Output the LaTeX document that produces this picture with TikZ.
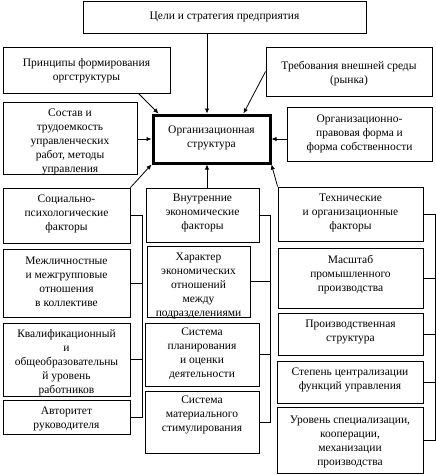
\documentclass[tikz,border=0pt]{standalone}
\usepackage{fontspec}
\setmainfont{Liberation Serif}
\usetikzlibrary{arrows.meta,fit,calc}
\tikzset{
  box/.style={draw, line width=0.9pt, inner sep=0pt},
  mainbox/.style={draw, line width=3pt, inner sep=0pt},
  txt/.style={align=center, inner sep=0pt, font=\fontsize{11.5}{14}\selectfont},
  arr/.style={line width=0.8pt, -{Latex[length=5pt,width=4.5pt]}},
  link/.style={line width=0.8pt}
}
\newcommand{\bx}[7][box]{%
  \node[#1, fit={(#3,#4) (#5,#6)}] (#2) {};
  \node[txt] (#2-t) at ({(#3+#5)/2},#7) {\csname bxt@#2\endcsname};}
\begin{document}
\begin{tikzpicture}[x=1pt,y=-1pt]
\useasboundingbox (0,0) rectangle (436,475);
\fill[white] (0,0) rectangle (436,475);
% boxes
\node[box, fit={(83,1) (366,33)}] (top) {};
\node[txt] (top-t) at (224.5,17) {Цели и стратегия предприятия};
\node[box, fit={(3,47) (170,93)}] (princ) {};
\node[txt] (princ-t) at (86.5,70.5) {Принципы формирования\\оргструктуры};
\node[box, fit={(266,47) (432,96)}] (req) {};
\node[txt] (req-t) at (349,73.5) {Требования внешней среды\\(рынка)};
\node[box, fit={(3,102) (137,174)}] (sostav) {};
\node[txt] (sostav-t) at (70,141.5) {Состав и\\трудоемкость\\управленческих\\работ, методы\\управления};
\node[mainbox, fit={(153,115) (270,163)}] (central) {};
\node[txt] (central-t) at (211.5,138) {Организационная\\структура};
\node[box, fit={(287,107) (432,161)}] (orglegal) {};
\node[txt] (orglegal-t) at (359.5,134) {Организационно-\\правовая форма и\\форма собственности};
% left column
\node[box, fit={(3,188) (130,243)}] (social) {};
\node[txt] (social-t) at (66.5,214) {Социально-\\психологические\\факторы};
\node[box, fit={(3,249) (130,317)}] (mezh) {};
\node[txt] (mezh-t) at (66.5,282) {Межличностные\\и межгрупповые\\отношения\\в коллективе};
\node[box, fit={(3,323) (130,396)}] (kval) {};
\node[txt] (kval-t) at (66.5,362.5) {Квалификационный\\и\\общеобразовательны\\й уровень\\работников};
\node[box, fit={(3,400) (130,434)}] (avt) {};
\node[txt] (avt-t) at (66.5,419) {Авторитет\\руководителя};
% middle column
\node[box, fit={(146,188) (259,242)}] (vnutr) {};
\node[txt] (vnutr-t) at (202.5,213) {Внутренние\\экономические\\факторы};
\node[box, fit={(147,246) (250,317)}] (harakt) {};
\node[txt] (harakt-t) at (198.5,286) {Характер\\экономических\\отношений\\между\\подразделениями};
\node[box, fit={(145,323) (259,386)}] (splan) {};
\node[txt] (splan-t) at (202,353.5) {Система\\планирования\\и оценки\\деятельности};
\node[box, fit={(145,391) (259,453)}] (smat) {};
\node[txt] (smat-t) at (202,415) {Система\\материального\\стимулирования};
% right column
\node[box, fit={(278,187) (423,241)}] (tech) {};
\node[txt] (tech-t) at (350.5,213) {Технические\\и организационные\\факторы};
\node[box, fit={(278,248) (423,308)}] (masht) {};
\node[txt] (masht-t) at (350.5,274.5) {Масштаб\\промышленного\\производства};
\node[box, fit={(278,313) (423,355)}] (proizv) {};
\node[txt] (proizv-t) at (350.5,331.5) {Производственная\\структура};
\node[box, fit={(277,361) (423,403)}] (stepen) {};
\node[txt] (stepen-t) at (350,379.5) {Степень централизации\\функций управления};
\node[box, fit={(277,407) (423,473)}] (urov) {};
\node[txt] (urov-t) at (350,441.5) {Уровень специализации,\\кооперации,\\механизации\\производства};
% helper coordinates
\coordinate (cx) at (207,0);
\coordinate (lb) at (142,0);
\coordinate (mb) at (270,0);
\coordinate (rb) at (435,0);
% arrows into central
\draw[arr] (top.south -| cx) -- (central.north -| cx);
\draw[arr] ([xshift=-32pt]princ.south east) -- ([xshift=7pt]central.north west);
\draw[arr] (req.west) -- ([xshift=-28pt]central.north east);
\draw[arr] (central.west -| sostav.east) -- (central.west);
\draw[arr] (central.east -| orglegal.west) -- (central.east);
\draw[arr] (social.north east) -- (central.south west);
\draw[arr] (vnutr.north -| cx) -- (central.south -| cx);
\draw[arr] (tech.north west) -- (central.south east);
% brackets
\draw[link] (social.east) -- (social.east -| lb) -- (avt.east -| lb) -- (avt.east);
\draw[link] (mezh.east) -- (mezh.east -| lb);
\draw[link] (kval.east) -- (kval.east -| lb);
\draw[link] (vnutr.east) -- (vnutr.east -| mb) -- (smat.east -| mb) -- (smat.east);
\draw[link] (harakt.east) -- (harakt.east -| mb);
\draw[link] (splan.east) -- (splan.east -| mb);
\draw[link] (tech.east) -- (tech.east -| rb) -- (urov.east -| rb) -- (urov.east);
\draw[link] (masht.east) -- (masht.east -| rb);
\draw[link] (proizv.east) -- (proizv.east -| rb);
\draw[link] (stepen.east) -- (stepen.east -| rb);
\end{tikzpicture}
\end{document}
